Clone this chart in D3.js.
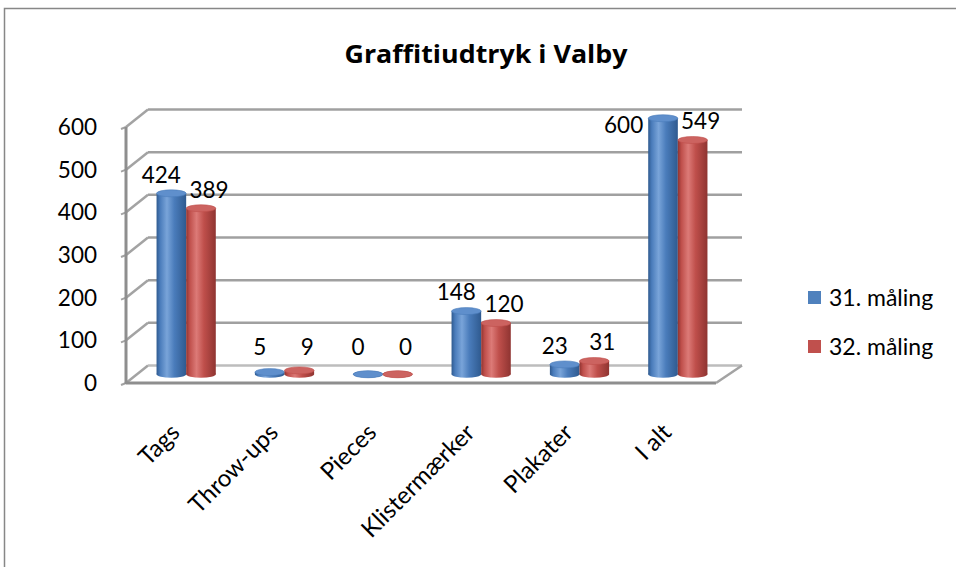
<!DOCTYPE html>
<html><head><meta charset="utf-8">
<script src="https://cdn.jsdelivr.net/npm/d3@7/dist/d3.min.js"></script>
<style>html,body{margin:0;padding:0;background:#fff;}svg{display:block;}</style>
</head><body>
<svg id="chart" width="956" height="567"></svg>
<script>
const title = "Graffitiudtryk i Valby";
const categories = ["Tags", "Throw-ups", "Pieces", "Klistermærker", "Plakater", "I alt"];
const seriesNames = ["31. måling", "32. måling"];
const values31 = [424, 5, 0, 148, 23, 600];
const values32 = [389, 9, 0, 120, 31, 549];
const yTicks = [0, 100, 200, 300, 400, 500, 600];
const seriesColors = ["#4F81BD", "#C0504D"];

const FONT = "Lato, 'Open Sans', sans-serif";
const svg = d3.select("#chart");

// outer frame
svg.append("rect").attr("x", 4.5).attr("y", 8.5).attr("width", 960).attr("height", 620)
  .attr("fill", "#fff").attr("stroke", "#878787").attr("stroke-width", 1.5);

// title
svg.append("text").attr("x", 486).attr("y", 63).attr("text-anchor", "middle")
  .attr("font-family", "'Open Sans', sans-serif").attr("font-weight", "bold").attr("font-size", 25)
  .attr("textLength", 283).attr("lengthAdjust", "spacingAndGlyphs")
  .attr("fill", "#000").text(title);

// scales (front plane)
const x = d3.scaleBand().domain(categories).range([126, 716]).paddingInner(0).paddingOuter(0);
const xs = d3.scaleBand().domain([0, 1]).range([0, x.bandwidth()]).paddingInner(0).paddingOuter(0.66);
const y = d3.scaleLinear().domain([0, 600]).range([383, 127]);
const DX = 22, DY = -17.5;          // depth offset (front -> back wall)
const MX = DX / 2, MY = DY / 2;     // bars sit mid-depth

const defs = svg.append("defs");
const shade = [
  {dark: "#2f5a8f", mid: "#4a7cbb", light: "#79a4d9", top: "#5f8fcc"},
  {dark: "#8f3431", mid: "#bf4f4b", light: "#dc7a77", top: "#cc6360"}
];
shade.forEach((s, i) => {
  const g = defs.append("linearGradient").attr("id", "cyl" + i).attr("x1", 0).attr("x2", 1).attr("y1", 0).attr("y2", 0);
  g.append("stop").attr("offset", "0%").attr("stop-color", s.dark);
  g.append("stop").attr("offset", "12%").attr("stop-color", s.mid);
  g.append("stop").attr("offset", "35%").attr("stop-color", s.light);
  g.append("stop").attr("offset", "60%").attr("stop-color", s.mid);
  g.append("stop").attr("offset", "100%").attr("stop-color", s.dark);
});

// walls & gridlines
const grid = svg.append("g");
const x0 = x.range()[0], x1 = x.range()[1];
yTicks.forEach(t => {
  const yf = y(t), yb = y(t) + DY;
  grid.append("line").attr("x1", x0).attr("y1", yf).attr("x2", x0 + DX).attr("y2", yb)
    .attr("stroke", "#a3a3a3").attr("stroke-width", 2.5);
  grid.append("line").attr("x1", x0 + DX).attr("y1", yb).attr("x2", x1 + DX + 4).attr("y2", yb)
    .attr("stroke", t === 0 ? "#bdbdbd" : "#a0a0a0").attr("stroke-width", 2.5);
  grid.append("line").attr("x1", x0 - 5).attr("y1", yf + 2).attr("x2", x0).attr("y2", yf)
    .attr("stroke", "#a3a3a3").attr("stroke-width", 2);
});
grid.append("line").attr("x1", x0).attr("y1", y(600)).attr("x2", x0).attr("y2", y(0) + 1)
  .attr("stroke", "#8e8e8e").attr("stroke-width", 3);
grid.append("line").attr("x1", x0).attr("y1", y(0)).attr("x2", x1).attr("y2", y(0))
  .attr("stroke", "#8e8e8e").attr("stroke-width", 3);
grid.append("line").attr("x1", x1).attr("y1", y(0)).attr("x2", x1 + DX + 4).attr("y2", y(0) + DY)
  .attr("stroke", "#a3a3a3").attr("stroke-width", 2.5);

// y-axis labels
svg.append("g").selectAll("text").data(yTicks).join("text")
  .attr("x", 97).attr("y", d => y(d) + 8).attr("text-anchor", "end")
  .attr("font-family", FONT).attr("font-size", 22.5).attr("fill", "#000").text(d => d);

// bars (cylinders)
const allSeries = [values31, values32];
const RY = 3.5;
const bars = svg.append("g");
categories.forEach((c, ci) => {
  allSeries.forEach((vals, si) => {
    const v = vals[ci];
    const bx = x(c) + xs(si) + MX;
    const bw = xs.bandwidth();
    const cx = bx + bw / 2;
    const yBase = y(0) + MY;
    const yTop = y(v) + MY;
    const g = bars.append("g");
    g.append("ellipse").attr("cx", cx).attr("cy", yBase).attr("rx", bw / 2).attr("ry", RY)
      .attr("fill", `url(#cyl${si})`);
    g.append("rect").attr("x", bx).attr("y", yTop).attr("width", bw).attr("height", Math.max(0, yBase - yTop))
      .attr("fill", `url(#cyl${si})`);
    g.append("ellipse").attr("cx", cx).attr("cy", yTop).attr("rx", bw / 2).attr("ry", RY)
      .attr("fill", shade[si].top).attr("stroke", shade[si].mid).attr("stroke-width", 0.6);
  });
});

// value labels
const labels = svg.append("g").attr("font-family", FONT).attr("font-size", 22.5).attr("fill", "#000");
categories.forEach((c, ci) => {
  allSeries.forEach((vals, si) => {
    const v = vals[ci];
    const bx = x(c) + xs(si) + MX;
    const bw = xs.bandwidth();
    const cx = bx + bw / 2;
    let ly = Math.min(y(v) + DY - 2, y(0) + DY - 11);
    let lx = cx + (si === 0 ? -10 : 8);
    let anchor = "middle";
    if (ly - 17 < y(600) + DY) {      // would run over the top of the plot: place beside the bar
      ly = y(v) + MY + 15;
      lx = bx - 5;
      anchor = "end";
    }
    labels.append("text").attr("x", lx).attr("y", ly).attr("text-anchor", anchor).text(v);
  });
});

// category labels
svg.append("g").selectAll("text").data(categories).join("text")
  .attr("transform", d => `translate(${x(d) + x.bandwidth() / 2 + 6},${434}) rotate(-45)`)
  .attr("text-anchor", "end").attr("font-family", FONT).attr("font-size", 24).attr("fill", "#000")
  .text(d => d);

// legend
const legend = svg.append("g");
seriesNames.forEach((n, i) => {
  const ly = 291 + i * 49;
  legend.append("rect").attr("x", 808).attr("y", ly).attr("width", 13).attr("height", 13).attr("fill", seriesColors[i]);
  legend.append("text").attr("x", 829).attr("y", ly + 15).attr("font-family", FONT).attr("font-size", 23)
    .attr("fill", "#000").text(n);
});
</script>
</body></html>
